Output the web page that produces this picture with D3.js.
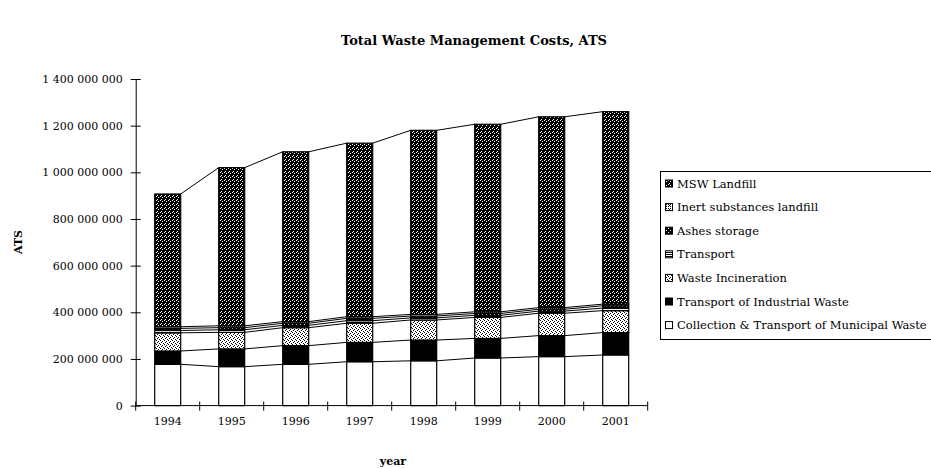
<!DOCTYPE html>
<html>
<head>
<meta charset="utf-8">
<script src="https://cdn.jsdelivr.net/npm/d3@7"></script>
<style>
  html, body { margin: 0; padding: 0; background: #fff; }
  svg { display: block; }
  text { font-family: "DejaVu Serif", "Liberation Serif", serif; fill: #000; }
</style>
</head>
<body>
<svg id="chart" width="931" height="468"></svg>
<script>
// Total waste management costs in ATS, by cost component and year
const years = ["1994", "1995", "1996", "1997", "1998", "1999", "2000", "2001"];

const collectionMunicipal = [177e6, 167e6, 177e6, 188e6, 192e6, 204e6, 210e6, 217e6];
const transportIndustrial = [57e6, 76e6, 80e6, 83e6, 89e6, 84e6, 90e6, 96e6];
const wasteIncineration   = [78e6, 71e6, 77e6, 82e6, 86e6, 90e6, 96e6, 94e6];
const transport           = [10e6, 11e6, 10e6, 11e6, 9e6, 9e6, 9e6, 11e6];
const ashesStorage        = [9e6, 9e6, 9e6, 10e6, 8e6, 8e6, 8e6, 10e6];
const inertLandfill       = [7e6, 8e6, 7e6, 7e6, 7e6, 7e6, 7e6, 7e6];
const mswLandfill         = [569e6, 678e6, 728e6, 744e6, 789e6, 804e6, 818e6, 825e6];

const yTicks = [0, 2e8, 4e8, 6e8, 8e8, 1e9, 1.2e9, 1.4e9];

// stacking order, bottom to top
const seriesNames = [
  "Collection & Transport of Municipal Waste",
  "Transport of Industrial Waste",
  "Waste Incineration",
  "Transport",
  "Ashes storage",
  "Inert substances landfill",
  "MSW Landfill"
];
const seriesValues = [collectionMunicipal, transportIndustrial, wasteIncineration,
  transport, ashesStorage, inertLandfill, mswLandfill];
const fills = ["#fff", "#000", "url(#pInc)", "url(#pTr)", "url(#pAsh)", "url(#pInert)", "url(#pMsw)"];

const svg = d3.select("#chart");

// fill textures
const defs = svg.append("defs");
function dotPattern(id, bg, fg, dots, size) {
  const p = defs.append("pattern").attr("id", id)
    .attr("patternUnits", "userSpaceOnUse").attr("width", size).attr("height", size);
  p.append("rect").attr("width", size).attr("height", size).attr("fill", bg);
  dots.forEach(([dx, dy]) => p.append("rect").attr("x", dx).attr("y", dy)
    .attr("width", 1).attr("height", 1).attr("fill", fg));
}
dotPattern("pMsw", "#000", "#fff", [[0, 0], [2, 1], [1, 3]], 4);
dotPattern("pInc", "#fff", "#000", [[0, 0], [2, 1], [1, 2], [3, 3]], 4);
dotPattern("pAsh", "#000", "#fff", [[0, 0], [2, 2]], 4);
dotPattern("pInert", "#fff", "#000", [[0, 0], [2, 0], [0, 2], [2, 2], [1, 1]], 4);
(function () {
  const p = defs.append("pattern").attr("id", "pTr")
    .attr("patternUnits", "userSpaceOnUse").attr("width", 3).attr("height", 2);
  p.append("rect").attr("width", 3).attr("height", 2).attr("fill", "#fff");
  p.append("rect").attr("width", 3).attr("height", 1).attr("fill", "#000");
})();

const plotLeft = 135.7, plotRight = 647.7, plotBottom = 405.6, plotTop = 79;

const x = d3.scaleBand().domain(years).range([plotLeft, plotRight])
  .paddingInner(0.594).paddingOuter(0.297);
const xCat = d3.scaleBand().domain(years).range([plotLeft, plotRight]).padding(0);
const y = d3.scaleLinear().domain([0, 1.4e9]).range([plotBottom, plotTop]);

const rows = years.map((yr, i) => {
  const r = { year: yr };
  seriesNames.forEach((n, k) => r[n] = seriesValues[k][i]);
  return r;
});
const stack = d3.stack().keys(seriesNames)(rows);

// title and axis titles
svg.append("text").attr("x", 474).attr("y", 45).attr("text-anchor", "middle")
  .attr("font-size", 13).attr("font-weight", "bold")
  .text("Total Waste Management Costs, ATS");
svg.append("text").attr("transform", "translate(22,242) rotate(-90)")
  .attr("text-anchor", "middle").attr("font-size", 11).attr("font-weight", "bold")
  .text("ATS");
svg.append("text").attr("x", 393).attr("y", 465).attr("text-anchor", "middle")
  .attr("font-size", 11).attr("font-weight", "bold").text("year");

// bars
const gBars = svg.append("g");
stack.forEach((layer, k) => {
  gBars.append("g").selectAll("rect").data(layer).enter().append("rect")
    .attr("x", d => x(d.data.year))
    .attr("width", x.bandwidth())
    .attr("y", d => y(d[1]))
    .attr("height", d => y(d[0]) - y(d[1]))
    .attr("fill", fills[k])
    .attr("stroke", "#000").attr("stroke-width", 1.2);
});

// series lines joining the top of each segment between neighbouring bars
const gLines = svg.append("g");
stack.forEach(layer => {
  for (let i = 0; i < layer.length - 1; i++) {
    gLines.append("line")
      .attr("x1", x(years[i]) + x.bandwidth()).attr("y1", y(layer[i][1]))
      .attr("x2", x(years[i + 1])).attr("y2", y(layer[i + 1][1]))
      .attr("stroke", "#000").attr("stroke-width", 1);
  }
});

// value axis
const locale = d3.formatLocale({ decimal: ",", thousands: " ", grouping: [3], currency: ["", ""] });
const fmt = locale.format(",");
const yAxis = svg.append("g").attr("transform", `translate(${plotLeft},0)`)
  .call(d3.axisLeft(y).tickValues(yTicks).tickFormat(fmt).tickSizeInner(5).tickSizeOuter(0).tickPadding(8));
yAxis.selectAll(".tick line").attr("x1", -5).attr("x2", 5);
yAxis.selectAll("text").attr("font-size", 11).attr("font-family", "DejaVu Serif");
yAxis.select(".domain").attr("stroke-width", 1);

// category axis
const gx = svg.append("g");
gx.append("line").attr("x1", plotLeft).attr("x2", plotRight).attr("y1", plotBottom).attr("y2", plotBottom)
  .attr("stroke", "#000");
const boundaries = years.map(yr => xCat(yr)).concat([plotRight]);
gx.selectAll(".tk").data(boundaries).enter().append("line")
  .attr("x1", d => d).attr("x2", d => d).attr("y1", plotBottom - 4).attr("y2", plotBottom + 5)
  .attr("stroke", "#000");
gx.selectAll(".lbl").data(years).enter().append("text")
  .attr("x", d => xCat(d) + xCat.bandwidth() / 2).attr("y", 425)
  .attr("text-anchor", "middle").attr("font-size", 11).text(d => d);

// legend (its right side runs past the edge of the drawing)
const lg = svg.append("g");
lg.append("rect").attr("x", 660.5).attr("y", 171.5).attr("width", 320).attr("height", 168)
  .attr("fill", "#fff").attr("stroke", "#000");
const legendOrder = d3.range(seriesNames.length).reverse();
legendOrder.forEach((k, j) => {
  const cy = 183.5 + j * 23.6;
  lg.append("rect").attr("x", 665.5).attr("y", cy - 3.5).attr("width", 7).attr("height", 7)
    .attr("fill", fills[k]).attr("stroke", "#000").attr("stroke-width", 1);
  lg.append("text").attr("x", 677).attr("y", cy).attr("dy", "0.35em")
    .attr("font-size", 11.5).text(seriesNames[k]);
});
</script>
</body>
</html>
